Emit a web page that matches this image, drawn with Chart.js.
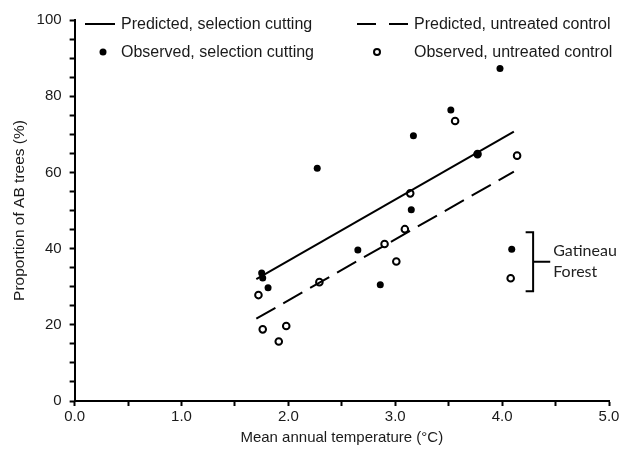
<!DOCTYPE html>
<html>
<head>
<meta charset="utf-8">
<script src="https://cdn.jsdelivr.net/npm/chart.js@4"></script>
<style>
  html, body { margin: 0; padding: 0; background: #fff; }
  #wrap { width: 621px; height: 449px; }
</style>
</head>
<body>
<div id="wrap"><canvas id="chart" width="621" height="449"></canvas></div>
<script>
// observed, selection cutting
const selTemp = [1.75, 1.76, 1.81, 2.27, 2.65, 2.86, 3.15, 3.17, 3.52, 3.77, 3.98, 4.09];
const selProp = [33.6, 32.3, 29.7, 61.1, 39.6, 30.5, 50.2, 69.6, 76.4, 64.8, 87.3, 39.8];

// observed, untreated control
const ctlTemp = [1.72, 1.76, 1.91, 1.98, 2.29, 2.90, 3.01, 3.09, 3.14, 3.56, 3.77, 4.14, 4.08];
const ctlProp = [27.8, 18.8, 15.6, 19.7, 31.2, 41.2, 36.6, 45.1, 54.5, 73.5, 64.8, 64.4, 32.2];

// predicted lines (end points)
const predTemp = [1.70, 4.11];
const predSel = [32.0, 70.7];
const predCtl = [21.6, 60.2];

const xTicks = [0, 1, 2, 3, 4, 5];
const yTicks = [0, 20, 40, 60, 80, 100];

const toPts = (xs, ys) => xs.map((x, i) => ({ x: x, y: ys[i] }));

const FONT = '"Liberation Sans", Arial, sans-serif';

// legend + Gatineau bracket drawn on top
const extras = {
    id: 'extras',
    afterDraw(chart) {
        const c = chart.ctx;
        const xs = chart.scales.x;
        const ys = chart.scales.y;
        c.save();
        c.fillStyle = '#1a1a1a';
        c.strokeStyle = '#000';
        c.font = '16px ' + FONT;
        c.textBaseline = 'middle';
        c.textAlign = 'left';

        const r1 = 24, r2 = 52;
        // predicted, selection cutting
        c.lineWidth = 2;
        c.setLineDash([]);
        c.beginPath(); c.moveTo(85, r1); c.lineTo(115, r1); c.stroke();
        c.fillText(chart.data.datasets[0].label, 121, r1 + 1);
        // predicted, untreated control
        c.setLineDash([19, 13]);
        c.beginPath(); c.moveTo(357, r1); c.lineTo(408, r1); c.stroke();
        c.setLineDash([]);
        c.fillText(chart.data.datasets[1].label, 414, r1 + 1);
        // observed, selection cutting
        c.fillStyle = '#000';
        c.beginPath(); c.arc(103, r2, 3.5, 0, Math.PI * 2); c.fill();
        c.fillStyle = '#1a1a1a';
        c.fillText(chart.data.datasets[2].label, 121, r2 + 1);
        // observed, untreated control
        c.lineWidth = 2;
        c.beginPath(); c.arc(377, r2, 3, 0, Math.PI * 2); c.stroke();
        c.fillText(chart.data.datasets[3].label, 414, r2 + 1);

        // Gatineau Forest bracket
        const bx = xs.getPixelForValue(4.29);
        const bl = xs.getPixelForValue(4.22);
        const br = xs.getPixelForValue(4.45);
        const top = ys.getPixelForValue(44.3);
        const bot = ys.getPixelForValue(28.8);
        const mid = (top + bot) / 2;
        c.lineWidth = 2;
        c.beginPath();
        c.moveTo(bl, top); c.lineTo(bx, top); c.lineTo(bx, bot); c.lineTo(bl, bot);
        c.moveTo(bx, mid); c.lineTo(br, mid);
        c.stroke();
        c.font = '16px Lato, "Open Sans", sans-serif';
        c.fillStyle = '#222';
        c.fillText('Gatineau', br + 3, mid - 11);
        c.fillText('Forest', br + 3, mid + 10);
        c.restore();
    }
};

new Chart(document.getElementById('chart'), {
    type: 'scatter',
    data: {
        datasets: [
            {
                type: 'line',
                label: 'Predicted, selection cutting',
                data: toPts(predTemp, predSel),
                borderColor: '#000',
                borderWidth: 2,
                pointRadius: 0,
                fill: false
            },
            {
                type: 'line',
                label: 'Predicted, untreated control',
                data: toPts(predTemp, predCtl),
                borderColor: '#000',
                borderWidth: 2,
                borderDash: [22, 9],
                pointRadius: 0,
                fill: false
            },
            {
                label: 'Observed, selection cutting',
                data: toPts(selTemp, selProp),
                backgroundColor: '#000',
                borderColor: '#000',
                pointRadius: 3.5,
                borderWidth: 0
            },
            {
                label: 'Observed, untreated control',
                data: toPts(ctlTemp, ctlProp),
                backgroundColor: 'rgba(255,255,255,0)',
                borderColor: '#000',
                pointRadius: 3.3,
                borderWidth: 2
            }
        ]
    },
    options: {
        responsive: false,
        animation: false,
        layout: { padding: { left: 10, right: 0, top: 20, bottom: 2 } },
        plugins: {
            legend: { display: false },
            tooltip: { enabled: false }
        },
        scales: {
            x: {
                type: 'linear',
                min: 0,
                max: 5,
                afterFit: s => { s.paddingRight = 12; },
                border: { display: true, color: '#000', width: 2 },
                grid: { drawOnChartArea: false, drawTicks: true, tickLength: 5, color: '#000', tickWidth: 2 },
                ticks: {
                    stepSize: 0.5,
                    autoSkip: false,
                    maxRotation: 0,
                    color: '#1a1a1a',
                    font: { family: FONT, size: 15 },
                    padding: 2,
                    callback: v => xTicks.includes(v) ? v.toFixed(1) : ''
                },
                title: {
                    display: true,
                    text: 'Mean annual temperature (°C)',
                    color: '#1a1a1a',
                    font: { family: FONT, size: 15 },
                    padding: { top: 1, bottom: 0 }
                }
            },
            y: {
                type: 'linear',
                min: 0,
                max: 100,
                border: { display: true, color: '#000', width: 2 },
                grid: { drawOnChartArea: false, drawTicks: true, tickLength: 5, color: '#000', tickWidth: 2 },
                ticks: {
                    stepSize: 5,
                    autoSkip: false,
                    color: '#1a1a1a',
                    font: { family: FONT, size: 15 },
                    padding: 8,
                    callback: v => yTicks.includes(v) ? String(v) : ''
                },
                title: {
                    display: true,
                    text: 'Proportion of AB trees (%)',
                    color: '#1a1a1a',
                    font: { family: FONT, size: 15.5 },
                    padding: { top: 0, bottom: 0 }
                }
            }
        }
    },
    plugins: [extras]
});
</script>
</body>
</html>
